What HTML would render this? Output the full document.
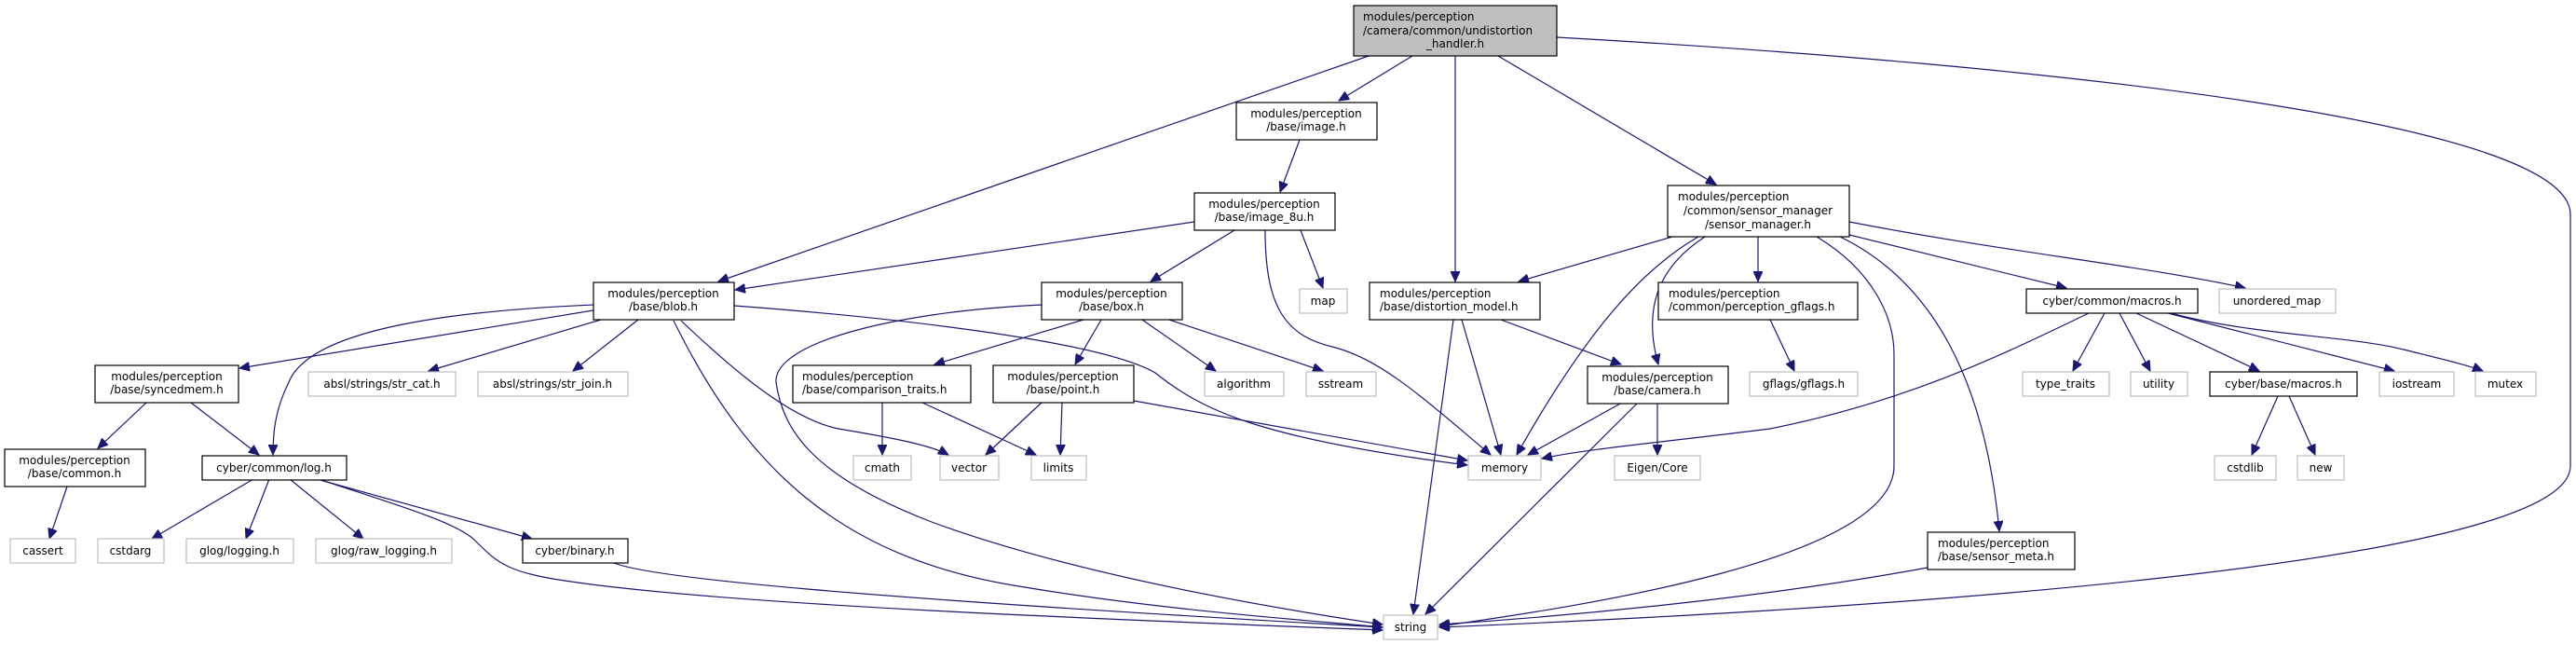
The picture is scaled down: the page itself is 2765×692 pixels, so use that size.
<!DOCTYPE html>
<html><head><meta charset="utf-8"><style>
html,body{margin:0;padding:0;background:#fff;}
svg{display:block;}
text{font-family:"DejaVu Sans","Liberation Sans",sans-serif;font-size:12px;fill:#000;}
.n{fill:#fff;stroke:#000;stroke-width:1.2;}
.x{fill:#fff;stroke:#bfbfbf;stroke-width:1.2;}
.e{fill:none;stroke:#191970;stroke-width:1.2;marker-end:url(#ah);}
</style></head><body>
<svg width="2765" height="692" viewBox="0 0 2765 692" xmlns="http://www.w3.org/2000/svg">
<defs><marker id="ah" markerWidth="12" markerHeight="10" refX="11" refY="5" orient="auto" markerUnits="userSpaceOnUse"><polygon points="0,0 11,5 0,10" fill="#191970" stroke="#191970"/></marker></defs>

<!-- edges -->
<path class="e" d="M1469,60 L771,302"/>
<path class="e" d="M1516,60 L1437,108"/>
<path class="e" d="M1562,60 L1562,302"/>
<path class="e" d="M1608,60 L1842,198"/>
<path class="e" d="M1671,40 C2200,70 2759,130 2759,230 L2759,500 C2759,600 2100,650 1545,673"/>
<path class="e" d="M1395,150 L1374,206"/>
<path class="e" d="M1282,238 L789,311"/>
<path class="e" d="M1325,247 L1235,302"/>
<path class="e" d="M1396,247 L1420,309"/>
<path class="e" d="M1358,247 C1358,330 1380,360 1430,372 C1480,385 1520,420 1600,488"/>
<path class="e" d="M637,333 L257,395"/>
<path class="e" d="M637,327 C450,335 330,360 310,410 C295,440 293,465 293,488"/>
<path class="e" d="M645,343 L460,398"/>
<path class="e" d="M685,343 L615,398"/>
<path class="e" d="M731,344 C790,400 850,450 900,460 C960,470 1000,478 1018,488"/>
<path class="e" d="M788,328 C950,340 1180,365 1240,400 C1290,440 1350,470 1575,499"/>
<path class="e" d="M723,344 C800,500 900,600 1100,630 C1250,655 1400,665 1484,673"/>
<path class="e" d="M1163,343 L1003,391"/>
<path class="e" d="M1182,343 L1154,391"/>
<path class="e" d="M1226,343 L1305,398"/>
<path class="e" d="M1255,343 L1420,398"/>
<path class="e" d="M1118,327 C950,335 830,370 833,410 C840,460 870,510 1000,560 C1150,615 1350,650 1484,670"/>
<path class="e" d="M947,432 L947,488"/>
<path class="e" d="M990,432 L1112,488"/>
<path class="e" d="M1118,432 L1058,488"/>
<path class="e" d="M1140,432 L1138,488"/>
<path class="e" d="M1217,430 L1575,494"/>
<path class="e" d="M1569,343 L1611,488"/>
<path class="e" d="M1560,343 L1517,659"/>
<path class="e" d="M1611,343 L1740,391"/>
<path class="e" d="M1795,254 L1630,302"/>
<path class="e" d="M1823,254 C1760,290 1700,360 1628,488"/>
<path class="e" d="M1830,254 C1790,280 1760,320 1780,391"/>
<path class="e" d="M1887,254 L1887,302"/>
<path class="e" d="M1950,254 C2010,290 2033,340 2033,380 L2033,500 C2033,600 1700,650 1545,672"/>
<path class="e" d="M1975,254 C2070,300 2130,400 2146,570"/>
<path class="e" d="M1985,252 L2218,309"/>
<path class="e" d="M1985,238 C2150,270 2300,285 2410,309"/>
<path class="e" d="M1900,343 L1926,398"/>
<path class="e" d="M1741,432 L1640,488"/>
<path class="e" d="M1758,432 L1530,659"/>
<path class="e" d="M1779,432 L1779,488"/>
<path class="e" d="M2242,336 C2150,380 2050,430 1900,460 C1780,475 1700,482 1655,492"/>
<path class="e" d="M2259,336 L2225,398"/>
<path class="e" d="M2275,336 L2308,398"/>
<path class="e" d="M2293,336 L2425,398"/>
<path class="e" d="M2327,336 L2570,398"/>
<path class="e" d="M2330,336 C2420,360 2520,360 2580,375 C2620,385 2650,392 2665,398"/>
<path class="e" d="M2445,425 L2417,488"/>
<path class="e" d="M2457,425 L2485,488"/>
<path class="e" d="M157,432 L105,481"/>
<path class="e" d="M205,432 L278,488"/>
<path class="e" d="M72,522 L53,578"/>
<path class="e" d="M272,514 L163,578"/>
<path class="e" d="M289,514 L264,578"/>
<path class="e" d="M311,514 L390,578"/>
<path class="e" d="M340,514 L571,578"/>
<path class="e" d="M342,514 C420,540 490,560 510,580 C535,605 545,615 620,625 C800,650 1200,665 1484,676"/>
<path class="e" d="M659,604 C700,620 900,640 1484,673"/>
<path class="e" d="M2069,609 C1900,640 1700,660 1545,670"/>

<!-- nodes -->
<rect x="1453" y="6" width="218" height="54" fill="#bfbfbf" stroke="#000" stroke-width="1.2"/>
<text x="1463" y="22">modules/perception</text>
<text x="1463" y="37">/camera/common/undistortion</text>
<text x="1562" y="51" text-anchor="middle">_handler.h</text>

<rect class="n" x="1327" y="110" width="151" height="40"/>
<text x="1402" y="126" text-anchor="middle">modules/perception</text>
<text x="1402" y="140" text-anchor="middle">/base/image.h</text>

<rect class="n" x="1282" y="207" width="151" height="40"/>
<text x="1357" y="223" text-anchor="middle">modules/perception</text>
<text x="1357" y="237" text-anchor="middle">/base/image_8u.h</text>

<rect class="n" x="1790" y="199" width="195" height="55"/>
<text x="1801" y="215">modules/perception</text>
<text x="1887" y="230" text-anchor="middle">/common/sensor_manager</text>
<text x="1887" y="245" text-anchor="middle">/sensor_manager.h</text>

<rect class="n" x="637" y="303" width="151" height="40"/>
<text x="712" y="319" text-anchor="middle">modules/perception</text>
<text x="712" y="333" text-anchor="middle">/base/blob.h</text>

<rect class="n" x="1118" y="303" width="151" height="40"/>
<text x="1193" y="319" text-anchor="middle">modules/perception</text>
<text x="1193" y="333" text-anchor="middle">/base/box.h</text>

<rect class="x" x="1395" y="310" width="51" height="26"/>
<text x="1420" y="327" text-anchor="middle">map</text>

<rect class="n" x="1470" y="303" width="183" height="40"/>
<text x="1481" y="319">modules/perception</text>
<text x="1481" y="333">/base/distortion_model.h</text>

<rect class="n" x="1780" y="303" width="214" height="40"/>
<text x="1791" y="319">modules/perception</text>
<text x="1791" y="333">/common/perception_gflags.h</text>

<rect class="n" x="2175" y="310" width="184" height="26"/>
<text x="2267" y="327" text-anchor="middle">cyber/common/macros.h</text>

<rect class="x" x="2382" y="310" width="125" height="26"/>
<text x="2444" y="327" text-anchor="middle">unordered_map</text>

<rect class="n" x="102" y="392" width="154" height="40"/>
<text x="179" y="408" text-anchor="middle">modules/perception</text>
<text x="179" y="422" text-anchor="middle">/base/syncedmem.h</text>

<rect class="x" x="331" y="399" width="158" height="26"/>
<text x="410" y="416" text-anchor="middle">absl/strings/str_cat.h</text>
<rect class="x" x="513" y="399" width="161" height="26"/>
<text x="593" y="416" text-anchor="middle">absl/strings/str_join.h</text>

<rect class="n" x="851" y="392" width="191" height="40"/>
<text x="861" y="408">modules/perception</text>
<text x="861" y="422">/base/comparison_traits.h</text>

<rect class="n" x="1066" y="392" width="151" height="40"/>
<text x="1141" y="408" text-anchor="middle">modules/perception</text>
<text x="1141" y="422" text-anchor="middle">/base/point.h</text>

<rect class="x" x="1293" y="399" width="85" height="26"/>
<text x="1335" y="416" text-anchor="middle">algorithm</text>
<rect class="x" x="1402" y="399" width="75" height="26"/>
<text x="1439" y="416" text-anchor="middle">sstream</text>

<rect class="n" x="1704" y="393" width="151" height="40"/>
<text x="1779" y="409" text-anchor="middle">modules/perception</text>
<text x="1779" y="423" text-anchor="middle">/base/camera.h</text>

<rect class="x" x="1878" y="399" width="116" height="26"/>
<text x="1936" y="416" text-anchor="middle">gflags/gflags.h</text>
<rect class="x" x="2171" y="399" width="93" height="26"/>
<text x="2217" y="416" text-anchor="middle">type_traits</text>
<rect class="x" x="2287" y="399" width="61" height="26"/>
<text x="2317" y="416" text-anchor="middle">utility</text>
<rect class="n" x="2372" y="399" width="158" height="26"/>
<text x="2451" y="416" text-anchor="middle">cyber/base/macros.h</text>
<rect class="x" x="2554" y="399" width="80" height="26"/>
<text x="2594" y="416" text-anchor="middle">iostream</text>
<rect class="x" x="2657" y="399" width="65" height="26"/>
<text x="2689" y="416" text-anchor="middle">mutex</text>

<rect class="n" x="5" y="482" width="151" height="40"/>
<text x="80" y="498" text-anchor="middle">modules/perception</text>
<text x="80" y="512" text-anchor="middle">/base/common.h</text>

<rect class="n" x="217" y="489" width="155" height="26"/>
<text x="294" y="506" text-anchor="middle">cyber/common/log.h</text>

<rect class="x" x="916" y="489" width="62" height="26"/>
<text x="947" y="506" text-anchor="middle">cmath</text>
<rect class="x" x="1009" y="489" width="63" height="26"/>
<text x="1040" y="506" text-anchor="middle">vector</text>
<rect class="x" x="1107" y="489" width="59" height="26"/>
<text x="1136" y="506" text-anchor="middle">limits</text>
<rect class="x" x="1576" y="489" width="78" height="26"/>
<text x="1615" y="506" text-anchor="middle">memory</text>
<rect class="x" x="1733" y="489" width="92" height="26"/>
<text x="1779" y="506" text-anchor="middle">Eigen/Core</text>
<rect class="x" x="2377" y="489" width="66" height="26"/>
<text x="2410" y="506" text-anchor="middle">cstdlib</text>
<rect class="x" x="2466" y="489" width="50" height="26"/>
<text x="2491" y="506" text-anchor="middle">new</text>

<rect class="x" x="11" y="578" width="70" height="26"/>
<text x="46" y="595" text-anchor="middle">cassert</text>
<rect class="x" x="105" y="578" width="71" height="26"/>
<text x="140" y="595" text-anchor="middle">cstdarg</text>
<rect class="x" x="200" y="578" width="115" height="26"/>
<text x="257" y="595" text-anchor="middle">glog/logging.h</text>
<rect class="x" x="339" y="578" width="146" height="26"/>
<text x="412" y="595" text-anchor="middle">glog/raw_logging.h</text>
<rect class="n" x="561" y="578" width="113" height="26"/>
<text x="617" y="595" text-anchor="middle">cyber/binary.h</text>

<rect class="n" x="2069" y="571" width="158" height="40"/>
<text x="2080" y="587">modules/perception</text>
<text x="2080" y="601">/base/sensor_meta.h</text>

<rect class="x" x="1485" y="660" width="58" height="26"/>
<text x="1514" y="677" text-anchor="middle">string</text>
</svg>
</body></html>
